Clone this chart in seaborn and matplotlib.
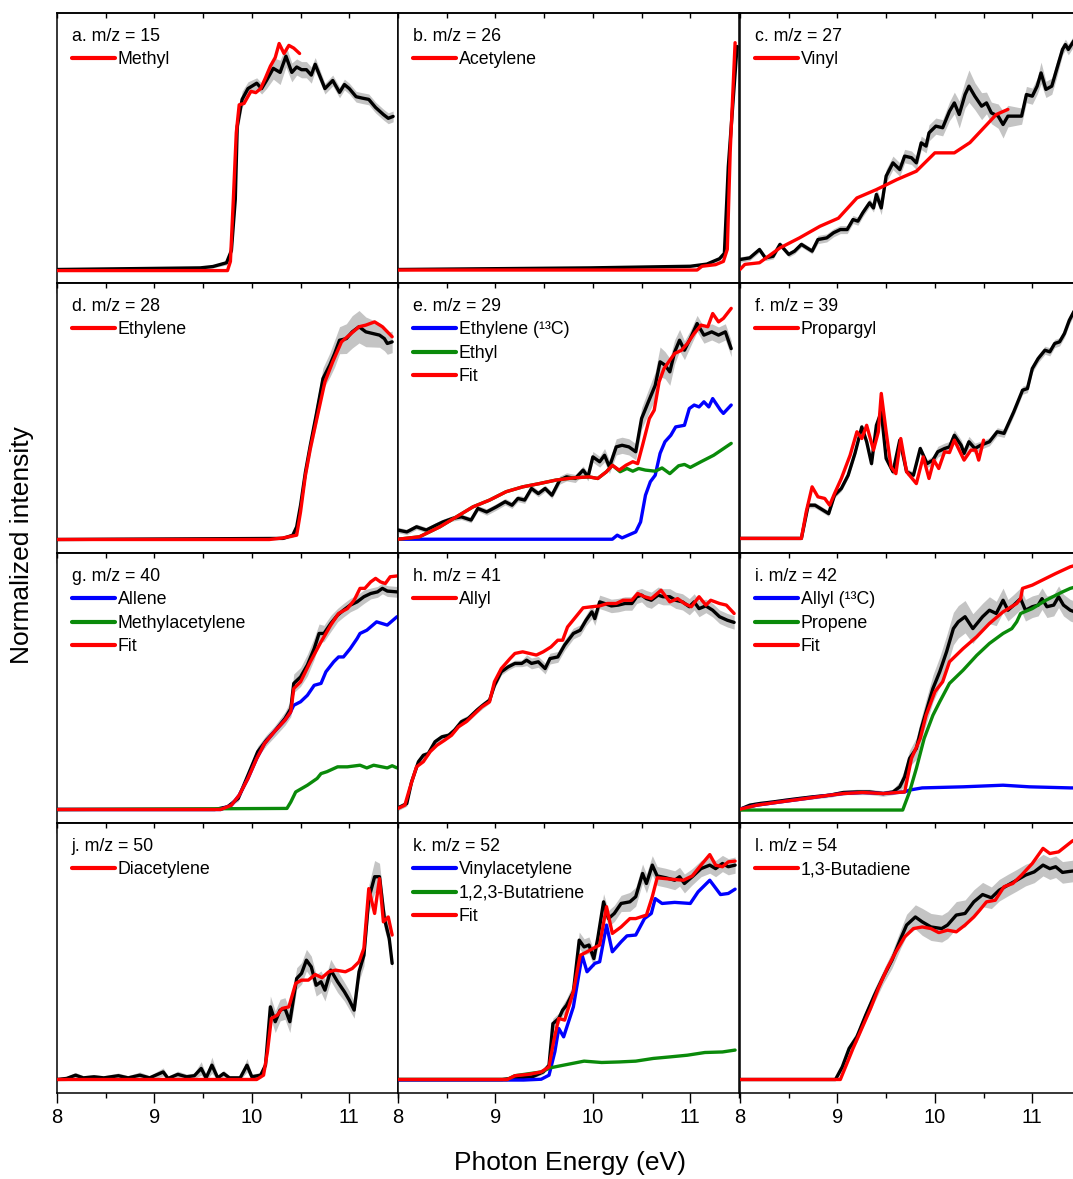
import numpy as np
import matplotlib
matplotlib.use("Agg")
import matplotlib.pyplot as plt
from matplotlib.ticker import MultipleLocator
import seaborn as sns

# ---- data (energy in eV, intensity normalised) ----

# a. m/z = 15
a_x = [8.0, 9.47, 9.6, 9.74, 9.79, 9.83, 9.85, 9.9, 9.96, 10.05, 10.1, 10.15, 10.22, 10.29, 10.35, 10.41, 10.46,
       10.51, 10.56, 10.61, 10.65, 10.75, 10.83, 10.9, 10.95, 11.0, 11.07, 11.13, 11.2, 11.27, 11.35, 11.4, 11.45]
a_y = [0.0, 0.006, 0.011, 0.025, 0.07, 0.26, 0.53, 0.63, 0.67, 0.69, 0.67, 0.70, 0.745, 0.73, 0.79, 0.73, 0.75,
       0.74, 0.74, 0.72, 0.76, 0.67, 0.70, 0.656, 0.685, 0.67, 0.64, 0.635, 0.63, 0.60, 0.574, 0.56, 0.567]
a_err = [0.004, 0.004, 0.005, 0.008, 0.02, 0.03, 0.03, 0.03, 0.025, 0.02, 0.02, 0.03, 0.04, 0.045, 0.04, 0.035, 0.03,
         0.03, 0.03, 0.03, 0.025, 0.02, 0.02, 0.02, 0.02, 0.02, 0.02, 0.02, 0.02, 0.02, 0.02, 0.02, 0.02]
a_methyl_x = [8.0, 9.75, 9.78, 9.81, 9.84, 9.87, 9.92, 9.99, 10.04, 10.09, 10.14, 10.19, 10.24, 10.28, 10.33, 10.38,
              10.43, 10.49]
a_methyl_y = [-0.004, -0.004, 0.03, 0.26, 0.506, 0.61, 0.615, 0.66, 0.655, 0.67, 0.71, 0.753, 0.785, 0.837, 0.80,
              0.83, 0.82, 0.80]

# b. m/z = 26
b_x = [8.0, 9.97, 11.0, 11.17, 11.3, 11.35, 11.39, 11.48]
b_y = [0.0, 0.006, 0.012, 0.02, 0.04, 0.06, 0.38, 0.826]
b_err = [0.003, 0.003, 0.004, 0.005, 0.006, 0.008, 0.01, 0.01]
b_acet_x = [8.0, 11.07, 11.12, 11.26, 11.34, 11.38, 11.41, 11.46]
b_acet_y = [-0.002, -0.002, 0.012, 0.018, 0.03, 0.075, 0.44, 0.84]

# c. m/z = 27
c_x = [8.0, 8.1, 8.2, 8.26, 8.34, 8.41, 8.5, 8.56, 8.63, 8.74, 8.8, 8.89, 8.96, 9.03, 9.1, 9.16, 9.21, 9.26, 9.33,
       9.37, 9.4, 9.45, 9.5, 9.57, 9.64, 9.69, 9.76, 9.81, 9.86, 9.91, 9.94, 10.01, 10.08, 10.15, 10.2, 10.25,
       10.31, 10.35, 10.41, 10.48, 10.53, 10.58, 10.65, 10.7, 10.75, 10.89, 10.94, 11.0, 11.05, 11.09, 11.14,
       11.2, 11.25, 11.31, 11.34, 11.37, 11.45]
c_y = [0.037, 0.043, 0.074, 0.043, 0.049, 0.093, 0.056, 0.068, 0.093, 0.068, 0.111, 0.117, 0.136, 0.148, 0.148,
       0.185, 0.179, 0.21, 0.247, 0.228, 0.278, 0.228, 0.346, 0.395, 0.37, 0.42, 0.414, 0.395, 0.469, 0.457,
       0.506, 0.531, 0.525, 0.586, 0.617, 0.574, 0.648, 0.679, 0.642, 0.605, 0.617, 0.58, 0.568, 0.537, 0.568,
       0.568, 0.648, 0.642, 0.679, 0.728, 0.667, 0.679, 0.741, 0.815, 0.833, 0.815, 0.86]
c_err = [0.01] * 10 + [0.015] * 10 + [0.025] * 10 + \
        [0.03, 0.03, 0.03, 0.035, 0.04, 0.05, 0.05, 0.06, 0.05, 0.05,
         0.04, 0.04, 0.045, 0.05, 0.04, 0.03, 0.03, 0.03, 0.03, 0.04,
         0.03, 0.03, 0.03, 0.02, 0.02, 0.02, 0.02]
c_vinyl_x = [8.0, 8.05, 8.2, 8.41, 8.61, 8.82, 9.01, 9.2, 9.4, 9.61, 9.81, 10.0, 10.2, 10.36, 10.49, 10.63, 10.75]
c_vinyl_y = [0.0, 0.019, 0.025, 0.08, 0.117, 0.16, 0.19, 0.265, 0.296, 0.333, 0.364, 0.432, 0.432, 0.47, 0.52,
             0.574, 0.593]

# d. m/z = 28
d_x = [8.0, 10.32, 10.42, 10.46, 10.5, 10.55, 10.6, 10.66, 10.73, 10.8, 10.85, 10.9, 10.97, 11.03, 11.1, 11.17,
       11.24, 11.31, 11.36, 11.39, 11.44]
d_y = [0.0, 0.004, 0.016, 0.047, 0.127, 0.25, 0.349, 0.46, 0.596, 0.646, 0.689, 0.738, 0.744, 0.769, 0.788, 0.769,
       0.763, 0.757, 0.744, 0.726, 0.732]
d_err = [0.003, 0.004, 0.008, 0.015, 0.02, 0.03, 0.035, 0.04, 0.04, 0.045, 0.05, 0.05, 0.055, 0.06, 0.06, 0.055,
         0.05, 0.045, 0.045, 0.04, 0.04]
d_ethylene_x = [8.0, 10.18, 10.32, 10.46, 10.5, 10.55, 10.6, 10.66, 10.75, 10.83, 10.92, 11.0, 11.1, 11.17, 11.26,
                11.34, 11.44]
d_ethylene_y = [0.0, 0.0, 0.006, 0.016, 0.103, 0.238, 0.337, 0.436, 0.584, 0.658, 0.732, 0.757, 0.788, 0.794,
                0.806, 0.788, 0.751]

# e. m/z = 29
e_x = [8.0, 8.09, 8.19, 8.29, 8.39, 8.46, 8.56, 8.65, 8.75, 8.82, 8.91, 9.01, 9.1, 9.17, 9.23, 9.3, 9.37, 9.44,
       9.51, 9.58, 9.66, 9.73, 9.82, 9.9, 9.95, 10.0, 10.07, 10.12, 10.17, 10.24, 10.3, 10.37, 10.44, 10.5, 10.57,
       10.64, 10.69, 10.74, 10.79, 10.84, 10.89, 10.94, 11.0, 11.07, 11.14, 11.22, 11.29, 11.36, 11.42]
e_y = [0.035, 0.028, 0.047, 0.035, 0.053, 0.065, 0.078, 0.084, 0.072, 0.115, 0.102, 0.121, 0.14, 0.127, 0.152,
       0.146, 0.189, 0.17, 0.189, 0.164, 0.22, 0.232, 0.226, 0.257, 0.232, 0.306, 0.288, 0.312, 0.269, 0.343,
       0.349, 0.343, 0.325, 0.448, 0.51, 0.571, 0.658, 0.646, 0.621, 0.695, 0.738, 0.701, 0.744, 0.8, 0.757,
       0.769, 0.757, 0.769, 0.707]
e_err = [0.01] * 10 + [0.012] * 10 + \
        [0.015, 0.015, 0.015, 0.015, 0.015, 0.02, 0.02, 0.025, 0.025, 0.03,
         0.03, 0.03, 0.03, 0.04, 0.045, 0.05, 0.055, 0.05, 0.05, 0.045,
         0.04, 0.035, 0.03, 0.03, 0.03, 0.03, 0.03, 0.03, 0.03]
e_eth13_x = [8.0, 10.2, 10.25, 10.3, 10.44, 10.49, 10.54, 10.59, 10.64, 10.69, 10.74, 10.8, 10.85, 10.94, 10.99,
             11.04, 11.09, 11.14, 11.19, 11.23, 11.31, 11.34, 11.42]
e_eth13_y = [0.001, 0.001, 0.016, 0.006, 0.028, 0.065, 0.164, 0.214, 0.238, 0.319, 0.362, 0.386, 0.417, 0.423,
             0.485, 0.498, 0.491, 0.51, 0.491, 0.522, 0.479, 0.467, 0.498]
e_ethyl_x = [8.0, 8.22, 8.43, 8.6, 8.77, 8.94, 9.11, 9.28, 9.45, 9.62, 9.79, 9.96, 10.05, 10.14, 10.2, 10.28,
             10.35, 10.41, 10.47, 10.54, 10.64, 10.71, 10.79, 10.88, 10.94, 11.0, 11.11, 11.24, 11.42]
e_ethyl_y = [0.001, 0.01, 0.047, 0.084, 0.121, 0.146, 0.177, 0.195, 0.207, 0.22, 0.228, 0.232, 0.226, 0.251, 0.275,
             0.251, 0.263, 0.253, 0.263, 0.257, 0.253, 0.265, 0.244, 0.273, 0.278, 0.267, 0.288, 0.312, 0.356]
e_fit_x = [8.0, 8.22, 8.43, 8.6, 8.77, 8.94, 9.11, 9.28, 9.45, 9.62, 9.79, 9.96, 10.05, 10.14, 10.2, 10.27, 10.34,
           10.41, 10.46, 10.51, 10.58, 10.63, 10.68, 10.73, 10.79, 10.84, 10.91, 10.97, 11.04, 11.11, 11.18, 11.23,
           11.29, 11.34, 11.42]
e_fit_y = [0.001, 0.01, 0.047, 0.084, 0.121, 0.146, 0.177, 0.195, 0.207, 0.22, 0.228, 0.232, 0.226, 0.251, 0.275,
           0.257, 0.275, 0.288, 0.281, 0.349, 0.448, 0.479, 0.584, 0.633, 0.664, 0.689, 0.701, 0.726, 0.763, 0.794,
           0.788, 0.837, 0.806, 0.819, 0.856]

# f. m/z = 39
f_x = [8.0, 8.63, 8.7, 8.77, 8.91, 8.97, 9.04, 9.11, 9.18, 9.25, 9.3, 9.35, 9.4, 9.45, 9.5, 9.57, 9.64, 9.71,
       9.78, 9.85, 9.92, 9.98, 10.03, 10.1, 10.15, 10.2, 10.27, 10.3, 10.35, 10.41, 10.47, 10.56, 10.64, 10.71,
       10.81, 10.9, 10.95, 11.0, 11.06, 11.13, 11.18, 11.23, 11.28, 11.33, 11.38, 11.45]
f_y = [0.004, 0.004, 0.127, 0.127, 0.096, 0.164, 0.189, 0.238, 0.319, 0.417, 0.362, 0.281, 0.423, 0.473, 0.3,
       0.251, 0.368, 0.251, 0.238, 0.337, 0.281, 0.294, 0.325, 0.337, 0.343, 0.386, 0.349, 0.319, 0.362, 0.337,
       0.349, 0.362, 0.399, 0.393, 0.473, 0.553, 0.559, 0.633, 0.67, 0.701, 0.695, 0.726, 0.732, 0.763, 0.812, 0.86]
f_err = [0.004, 0.004] + [0.01] * 8 + [0.012] * 10 + \
        [0.015, 0.015, 0.02, 0.02, 0.02, 0.02, 0.02, 0.02, 0.02, 0.02] + [0.015] * 16
f_prop_x = [8.0, 8.63, 8.68, 8.74, 8.8, 8.87, 8.92, 8.97, 9.04, 9.13, 9.2, 9.25, 9.3, 9.37, 9.42, 9.45, 9.5, 9.55,
            9.6, 9.65, 9.71, 9.81, 9.88, 9.94, 9.99, 10.04, 10.1, 10.15, 10.2, 10.3, 10.37, 10.42, 10.45, 10.5]
f_prop_y = [0.004, 0.004, 0.103, 0.195, 0.158, 0.152, 0.127, 0.17, 0.226, 0.312, 0.399, 0.374, 0.423, 0.331,
            0.399, 0.541, 0.399, 0.269, 0.244, 0.374, 0.251, 0.207, 0.306, 0.226, 0.294, 0.263, 0.325, 0.322,
            0.368, 0.294, 0.331, 0.331, 0.294, 0.368]

# g. m/z = 40
g_x = [8.0, 9.62, 9.75, 9.86, 9.96, 10.06, 10.15, 10.23, 10.34, 10.4, 10.43, 10.5, 10.57, 10.64, 10.69, 10.74,
       10.81, 10.88, 10.94, 11.01, 11.08, 11.15, 11.22, 11.29, 11.34, 11.39, 11.49]
g_y = [0.0, 0.0, 0.01, 0.041, 0.127, 0.214, 0.257, 0.288, 0.337, 0.374, 0.467, 0.491, 0.535, 0.596, 0.652, 0.652,
       0.689, 0.72, 0.738, 0.757, 0.769, 0.788, 0.8, 0.806, 0.819, 0.809, 0.806]
g_err = [0.003, 0.003, 0.005, 0.01, 0.015, 0.02, 0.02, 0.02, 0.025, 0.03, 0.035, 0.035, 0.04, 0.04, 0.035, 0.03,
         0.03, 0.025, 0.025, 0.025, 0.025, 0.025, 0.02, 0.02, 0.02, 0.02, 0.02]
g_allene_x = [8.0, 9.68, 9.79, 9.87, 9.96, 10.05, 10.13, 10.23, 10.34, 10.39, 10.43, 10.5, 10.57, 10.64, 10.71,
              10.76, 10.84, 10.89, 10.94, 11.01, 11.08, 11.11, 11.18, 11.28, 11.39, 11.49]
g_allene_y = [0.0, 0.0, 0.016, 0.053, 0.115, 0.189, 0.244, 0.288, 0.331, 0.356, 0.386, 0.399, 0.423, 0.46, 0.467,
              0.51, 0.547, 0.565, 0.565, 0.596, 0.633, 0.652, 0.664, 0.695, 0.683, 0.714]
g_macet_x = [8.0, 10.36, 10.4, 10.45, 10.57, 10.67, 10.71, 10.77, 10.88, 10.98, 11.11, 11.18, 11.25, 11.39, 11.44,
             11.49]
g_macet_y = [0.0, 0.004, 0.028, 0.065, 0.09, 0.115, 0.133, 0.14, 0.158, 0.158, 0.164, 0.154, 0.164, 0.154, 0.162,
             0.154]
g_fit_x = [8.0, 9.68, 9.79, 9.87, 9.96, 10.05, 10.13, 10.23, 10.34, 10.4, 10.43, 10.5, 10.6, 10.71, 10.81, 10.89,
           10.98, 11.05, 11.11, 11.16, 11.22, 11.27, 11.32, 11.37, 11.42, 11.49]
g_fit_y = [0.0, 0.0, 0.016, 0.053, 0.115, 0.189, 0.244, 0.288, 0.331, 0.362, 0.448, 0.473, 0.547, 0.621, 0.683,
           0.726, 0.744, 0.775, 0.819, 0.819, 0.843, 0.856, 0.843, 0.837, 0.862, 0.865]

# h. m/z = 41
h_x = [8.0, 8.09, 8.14, 8.21, 8.26, 8.31, 8.38, 8.45, 8.52, 8.58, 8.65, 8.72, 8.81, 8.87, 8.94, 8.99, 9.06, 9.13,
       9.2, 9.27, 9.32, 9.37, 9.44, 9.51, 9.56, 9.64, 9.71, 9.8, 9.87, 9.93, 9.99, 10.02, 10.07, 10.12, 10.19,
       10.26, 10.33, 10.4, 10.45, 10.5, 10.55, 10.6, 10.67, 10.72, 10.79, 10.85, 10.92, 10.99, 11.04, 11.09, 11.16,
       11.23, 11.3, 11.38, 11.45]
h_y = [0.006, 0.022, 0.103, 0.177, 0.201, 0.207, 0.251, 0.269, 0.275, 0.294, 0.325, 0.337, 0.368, 0.386, 0.405,
       0.46, 0.51, 0.528, 0.541, 0.541, 0.553, 0.541, 0.547, 0.522, 0.559, 0.565, 0.609, 0.652, 0.664, 0.701,
       0.732, 0.707, 0.769, 0.763, 0.754, 0.757, 0.763, 0.763, 0.788, 0.794, 0.781, 0.775, 0.794, 0.788, 0.788,
       0.775, 0.769, 0.751, 0.769, 0.744, 0.754, 0.738, 0.714, 0.701, 0.693]
h_err = [0.01] * 10 + [0.012] * 10 + [0.02] * 10 + [0.025] * 10 + [0.03] * 10 + [0.025] * 5
h_allyl_x = [8.0, 8.07, 8.12, 8.19, 8.26, 8.33, 8.4, 8.48, 8.55, 8.62, 8.7, 8.79, 8.86, 8.94, 8.99, 9.06, 9.15,
             9.2, 9.28, 9.35, 9.42, 9.49, 9.57, 9.64, 9.69, 9.74, 9.81, 9.9, 9.99, 10.07, 10.15, 10.24, 10.31, 10.4,
             10.46, 10.53, 10.6, 10.7, 10.79, 10.87, 10.94, 11.01, 11.09, 11.16, 11.21, 11.3, 11.37, 11.45]
h_allyl_y = [0.004, 0.016, 0.078, 0.158, 0.177, 0.214, 0.238, 0.257, 0.275, 0.306, 0.325, 0.356, 0.38, 0.399,
             0.473, 0.522, 0.559, 0.578, 0.584, 0.578, 0.572, 0.584, 0.602, 0.627, 0.627, 0.676, 0.707, 0.747,
             0.751, 0.754, 0.763, 0.763, 0.775, 0.775, 0.8, 0.788, 0.781, 0.812, 0.769, 0.781, 0.763, 0.751, 0.788,
             0.757, 0.775, 0.763, 0.757, 0.726]

# i. m/z = 42
i_x = [8.0, 8.1, 8.2, 8.34, 8.48, 8.61, 8.75, 8.92, 9.06, 9.2, 9.33, 9.47, 9.57, 9.64, 9.69, 9.74, 9.81, 9.86,
       9.91, 9.98, 10.05, 10.12, 10.19, 10.24, 10.31, 10.39, 10.49, 10.56, 10.63, 10.7, 10.75, 10.81, 10.88, 10.93,
       11.0, 11.06, 11.1, 11.15, 11.22, 11.27, 11.32, 11.39, 11.45]
i_y = [0.001, 0.016, 0.022, 0.028, 0.035, 0.041, 0.047, 0.053, 0.063, 0.065, 0.065, 0.059, 0.065, 0.084, 0.121,
       0.189, 0.226, 0.3, 0.362, 0.448, 0.51, 0.584, 0.67, 0.695, 0.714, 0.67, 0.714, 0.738, 0.726, 0.775, 0.738,
       0.757, 0.781, 0.738, 0.751, 0.757, 0.781, 0.751, 0.757, 0.788, 0.757, 0.738, 0.73]
i_err = [0.008] * 9 + [0.01] * 4 + [0.02, 0.03, 0.03, 0.04, 0.04, 0.045, 0.05] + \
        [0.055, 0.06, 0.06, 0.06, 0.06, 0.055, 0.05, 0.05, 0.045, 0.045] + [0.04] * 13
i_allyl13_x = [8.0, 8.17, 8.41, 8.68, 8.92, 9.06, 9.26, 9.47, 9.69, 9.74, 9.87, 10.29, 10.7, 10.97, 11.39, 11.5]
i_allyl13_y = [0.001, 0.016, 0.028, 0.041, 0.053, 0.059, 0.063, 0.059, 0.065, 0.072, 0.08, 0.084, 0.09, 0.084,
               0.08, 0.08]
i_propene_x = [8.0, 9.67, 9.74, 9.81, 9.89, 9.98, 10.05, 10.15, 10.29, 10.43, 10.56, 10.7, 10.79, 10.84, 10.88,
               11.0, 11.14, 11.31, 11.39, 11.5]
i_propene_y = [-0.002, -0.002, 0.065, 0.152, 0.263, 0.349, 0.399, 0.467, 0.516, 0.571, 0.615, 0.652, 0.67, 0.695,
               0.726, 0.744, 0.775, 0.806, 0.819, 0.83]
i_fit_x = [8.0, 8.17, 8.41, 8.68, 8.92, 9.06, 9.26, 9.47, 9.69, 9.76, 9.85, 9.91, 10.0, 10.08, 10.15, 10.29, 10.43,
           10.56, 10.7, 10.84, 10.88, 10.9, 11.0, 11.1, 11.24, 11.39, 11.5]
i_fit_y = [0.001, 0.016, 0.028, 0.041, 0.053, 0.059, 0.063, 0.059, 0.065, 0.189, 0.263, 0.349, 0.436, 0.473, 0.547,
           0.596, 0.64, 0.689, 0.732, 0.763, 0.781, 0.819, 0.831, 0.849, 0.874, 0.899, 0.91]

# j. m/z = 50
j_x = [8.0, 8.1, 8.19, 8.27, 8.38, 8.48, 8.63, 8.73, 8.85, 8.95, 9.09, 9.14, 9.24, 9.33, 9.41, 9.48, 9.53, 9.59,
       9.65, 9.71, 9.77, 9.88, 9.95, 10.0, 10.09, 10.14, 10.19, 10.24, 10.29, 10.34, 10.39, 10.46, 10.51, 10.56,
       10.61, 10.66, 10.71, 10.75, 10.81, 10.88, 10.95, 11.0, 11.05, 11.1, 11.15, 11.2, 11.26, 11.31, 11.36,
       11.41, 11.44]
j_y = [0.0, 0.004, 0.016, 0.006, 0.01, 0.006, 0.014, 0.006, 0.016, 0.006, 0.028, 0.004, 0.019, 0.01, 0.014, 0.041,
       0.006, 0.053, 0.006, 0.022, 0.006, 0.006, 0.053, 0.01, 0.016, 0.053, 0.269, 0.214, 0.257, 0.263, 0.214,
       0.374, 0.393, 0.442, 0.417, 0.349, 0.362, 0.331, 0.405, 0.362, 0.325, 0.294, 0.257, 0.399, 0.46, 0.67,
       0.751, 0.751, 0.596, 0.522, 0.43]
j_err = [0.005, 0.008, 0.01, 0.008, 0.008, 0.008, 0.01, 0.008, 0.012, 0.008, 0.015, 0.008, 0.012, 0.01, 0.01,
         0.025, 0.01, 0.03, 0.01, 0.012, 0.008, 0.008, 0.025, 0.01, 0.01, 0.02] + [0.04] * 14 + \
        [0.035, 0.035, 0.03, 0.035, 0.04, 0.05, 0.06, 0.05, 0.04, 0.03, 0.02]
j_diac_x = [8.0, 10.05, 10.12, 10.16, 10.2, 10.26, 10.31, 10.38, 10.45, 10.51, 10.58, 10.65, 10.72, 10.79, 10.86,
            10.96, 11.03, 11.1, 11.15, 11.2, 11.26, 11.31, 11.35, 11.4, 11.44]
j_diac_y = [0.0, 0.0, 0.016, 0.103, 0.226, 0.238, 0.263, 0.269, 0.356, 0.368, 0.368, 0.389, 0.377, 0.399, 0.405,
            0.399, 0.411, 0.436, 0.486, 0.707, 0.615, 0.744, 0.584, 0.602, 0.535]

# k. m/z = 52
k_x = [8.0, 9.07, 9.2, 9.38, 9.49, 9.55, 9.59, 9.65, 9.69, 9.73, 9.8, 9.86, 9.91, 9.96, 10.01, 10.05, 10.11, 10.16,
       10.22, 10.29, 10.38, 10.44, 10.51, 10.55, 10.61, 10.66, 10.75, 10.84, 10.89, 10.94, 11.02, 11.11, 11.2,
       11.26, 11.33, 11.39, 11.46]
k_y = [0.0, 0.0, 0.006, 0.01, 0.028, 0.053, 0.207, 0.226, 0.257, 0.275, 0.325, 0.516, 0.491, 0.498, 0.448, 0.522,
       0.658, 0.596, 0.615, 0.652, 0.658, 0.677, 0.763, 0.726, 0.794, 0.754, 0.747, 0.738, 0.751, 0.726, 0.751,
       0.781, 0.794, 0.781, 0.8, 0.788, 0.794]
k_err = [0.003, 0.003, 0.004, 0.005, 0.008, 0.01, 0.02, 0.02, 0.02, 0.025] + [0.03] * 10 + [0.035] * 10 + [0.03] * 7
k_vinylacet_x = [8.0, 9.12, 9.29, 9.47, 9.55, 9.61, 9.65, 9.7, 9.8, 9.89, 9.94, 10.02, 10.07, 10.14, 10.2, 10.29,
                 10.35, 10.44, 10.53, 10.6, 10.64, 10.71, 10.84, 11.0, 11.08, 11.2, 11.31, 11.39, 11.46]
k_vinylacet_y = [-0.002, -0.002, -0.002, 0.001, 0.016, 0.103, 0.189, 0.158, 0.269, 0.46, 0.399, 0.43, 0.436,
                 0.572, 0.473, 0.51, 0.532, 0.535, 0.596, 0.615, 0.67, 0.652, 0.656, 0.652, 0.695, 0.738, 0.685,
                 0.689, 0.705]
k_butatri_x = [8.0, 9.12, 9.2, 9.47, 9.56, 9.67, 9.91, 10.09, 10.27, 10.44, 10.62, 10.8, 10.97, 11.15, 11.33, 11.46]
k_butatri_y = [0.0, 0.0, 0.014, 0.028, 0.043, 0.051, 0.068, 0.063, 0.065, 0.068, 0.078, 0.084, 0.09, 0.1, 0.102,
               0.109]
k_fit_x = [8.0, 9.12, 9.2, 9.34, 9.47, 9.55, 9.6, 9.65, 9.71, 9.8, 9.87, 9.94, 10.0, 10.07, 10.14, 10.2, 10.29,
           10.38, 10.44, 10.55, 10.61, 10.66, 10.8, 10.93, 11.02, 11.11, 11.2, 11.26, 11.33, 11.39, 11.46]
k_fit_y = [0.0, 0.0, 0.014, 0.019, 0.028, 0.047, 0.146, 0.226, 0.22, 0.325, 0.46, 0.473, 0.485, 0.498, 0.64, 0.541,
           0.565, 0.596, 0.596, 0.609, 0.677, 0.747, 0.742, 0.738, 0.754, 0.794, 0.833, 0.794, 0.788, 0.806, 0.809]

# l. m/z = 54
l_x = [8.0, 8.98, 9.05, 9.12, 9.2, 9.29, 9.38, 9.47, 9.56, 9.65, 9.71, 9.8, 9.87, 9.96, 10.07, 10.13, 10.22, 10.31,
       10.4, 10.49, 10.58, 10.66, 10.75, 10.84, 10.93, 11.02, 11.11, 11.18, 11.24, 11.31, 11.41, 11.5]
l_y = [0.0, 0.0, 0.047, 0.115, 0.158, 0.238, 0.312, 0.38, 0.442, 0.522, 0.572, 0.602, 0.584, 0.565, 0.559, 0.572,
       0.609, 0.615, 0.658, 0.685, 0.673, 0.701, 0.72, 0.738, 0.757, 0.769, 0.794, 0.781, 0.788, 0.767, 0.772, 0.775]
l_err = [0.003, 0.003, 0.01, 0.015, 0.02, 0.02, 0.025, 0.025, 0.03, 0.035,
         0.04, 0.045, 0.05, 0.05, 0.05, 0.05, 0.05, 0.05, 0.045, 0.045] + [0.04] * 12
l_butadiene_x = [8.0, 9.03, 9.09, 9.16, 9.25, 9.34, 9.42, 9.51, 9.6, 9.69, 9.78, 9.87, 9.96, 10.04, 10.13, 10.22,
                 10.31, 10.4, 10.46, 10.53, 10.62, 10.71, 10.8, 10.89, 11.0, 11.11, 11.18, 11.27, 11.41, 11.5]
l_butadiene_y = [0.0, 0.0, 0.053, 0.115, 0.189, 0.263, 0.337, 0.411, 0.473, 0.528, 0.559, 0.565, 0.559, 0.544,
                 0.553, 0.547, 0.572, 0.602, 0.627, 0.658, 0.664, 0.714, 0.726, 0.757, 0.8, 0.856, 0.837, 0.843,
                 0.883, 0.9]

RED, BLUE, GREEN = "#ff0000", "#0000ff", "#0a8a0a"

panels = [
    ("a. m/z = 15", a_x, a_y, a_err, [("Methyl", RED, a_methyl_x, a_methyl_y)]),
    ("b. m/z = 26", b_x, b_y, b_err, [("Acetylene", RED, b_acet_x, b_acet_y)]),
    ("c. m/z = 27", c_x, c_y, c_err, [("Vinyl", RED, c_vinyl_x, c_vinyl_y)]),
    ("d. m/z = 28", d_x, d_y, d_err, [("Ethylene", RED, d_ethylene_x, d_ethylene_y)]),
    ("e. m/z = 29", e_x, e_y, e_err, [("Ethylene (¹³C)", BLUE, e_eth13_x, e_eth13_y),
                                      ("Ethyl", GREEN, e_ethyl_x, e_ethyl_y),
                                      ("Fit", RED, e_fit_x, e_fit_y)]),
    ("f. m/z = 39", f_x, f_y, f_err, [("Propargyl", RED, f_prop_x, f_prop_y)]),
    ("g. m/z = 40", g_x, g_y, g_err, [("Allene", BLUE, g_allene_x, g_allene_y),
                                      ("Methylacetylene", GREEN, g_macet_x, g_macet_y),
                                      ("Fit", RED, g_fit_x, g_fit_y)]),
    ("h. m/z = 41", h_x, h_y, h_err, [("Allyl", RED, h_allyl_x, h_allyl_y)]),
    ("i. m/z = 42", i_x, i_y, i_err, [("Allyl (¹³C)", BLUE, i_allyl13_x, i_allyl13_y),
                                      ("Propene", GREEN, i_propene_x, i_propene_y),
                                      ("Fit", RED, i_fit_x, i_fit_y)]),
    ("j. m/z = 50", j_x, j_y, j_err, [("Diacetylene", RED, j_diac_x, j_diac_y)]),
    ("k. m/z = 52", k_x, k_y, k_err, [("Vinylacetylene", BLUE, k_vinylacet_x, k_vinylacet_y),
                                      ("1,2,3-Butatriene", GREEN, k_butatri_x, k_butatri_y),
                                      ("Fit", RED, k_fit_x, k_fit_y)]),
    ("l. m/z = 54", l_x, l_y, l_err, [("1,3-Butadiene", RED, l_butadiene_x, l_butadiene_y)]),
]

sns.set_style("ticks")
plt.rcParams["font.family"] = ["Liberation Sans", "DejaVu Sans"]
plt.rcParams["text.color"] = "black"
plt.rcParams["xtick.color"] = "black"
plt.rcParams["axes.labelcolor"] = "black"

W, H = 1073, 1179
fig = plt.figure(figsize=(W / 100, H / 100), dpi=100)

col_left = [57, 398, 740]
panel_w, panel_h, top0 = 341, 270, 13

for n, (title, x, y, err, comps) in enumerate(panels):
    r, c = divmod(n, 3)
    top = top0 + r * panel_h
    ax = fig.add_axes([col_left[c] / W, (H - top - panel_h) / H, panel_w / W, panel_h / H])

    x = np.array(x)
    y = np.array(y)
    err = np.array(err)
    ax.fill_between(x, y - err, y + err, color="#c4c4c4", lw=0, zorder=1)
    sns.lineplot(x=x, y=y, ax=ax, color="black", lw=2.4, sort=False, estimator=None, zorder=2)
    for label, color, cx, cy in comps:
        sns.lineplot(x=cx, y=cy, ax=ax, color=color, lw=2.4, sort=False, estimator=None,
                     label=label, zorder=3)

    ax.set_xlim(8, 11.5)
    ax.set_ylim(-0.05, 0.95)
    ax.set_yticks([])
    ax.set_xlabel("")
    ax.set_ylabel("")
    for sp in ax.spines.values():
        sp.set_linewidth(1.1)
        sp.set_color("black")

    ax.xaxis.set_major_locator(MultipleLocator(1))
    ax.xaxis.set_minor_locator(MultipleLocator(0.5))
    ax.tick_params(axis="x", which="major", direction="out", length=7, width=1.0, labelsize=14.5, pad=4,
                   color="black", labelcolor="black")
    ax.tick_params(axis="x", which="minor", direction="out", length=3.5, width=1.0, color="black")
    if r < 3:
        ax.tick_params(axis="x", which="both", labelbottom=False)
    top_ax = ax.secondary_xaxis("top")
    top_ax.xaxis.set_major_locator(MultipleLocator(1))
    top_ax.xaxis.set_minor_locator(MultipleLocator(0.5))
    top_ax.tick_params(axis="x", which="both", direction="in", length=3.8, width=1.0, labeltop=False,
                       color="black")
    top_ax.spines["top"].set_linewidth(1.1)
    top_ax.spines["top"].set_color("black")

    leg = ax.legend(title=title, loc="upper left", bbox_to_anchor=(0.0, 1.0), frameon=False, fontsize=12.8,
                    title_fontsize=12.8, handlelength=2.42, handletextpad=0.17, labelspacing=0.36,
                    borderaxespad=0.5, borderpad=0.34, alignment="left")
    for h in leg.legend_handles:
        h.set_linewidth(3)

fig.text(570 / W, 1 - 1163 / H, "Photon Energy (eV)", ha="center", va="center", fontsize=19, color="black")
fig.text(22 / W, 1 - 545 / H, "Normalized intensity", ha="center", va="center", rotation=90, fontsize=19,
         color="black")

fig.savefig("out.png", dpi=100)
